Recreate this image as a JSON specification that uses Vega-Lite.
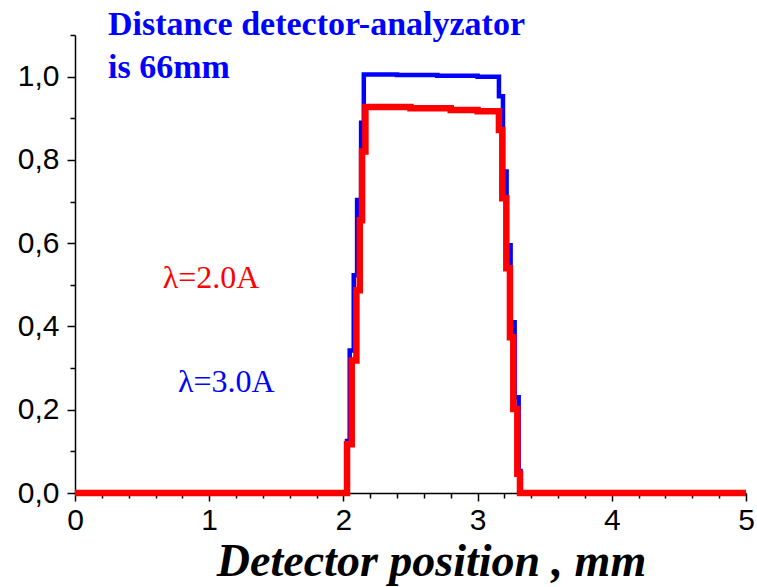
{
  "$schema": "https://vega.github.io/schema/vega-lite/v6.json",
  "width": 671,
  "height": 458,
  "autosize": {"type": "none"},
  "padding": {"left": 75, "top": 35, "right": 11, "bottom": 94},
  "background": "white",
  "config": {
    "view": {"stroke": null},
    "axis": {"grid": false, "domainColor": "black", "tickColor": "black", "domainWidth": 1.5, "tickWidth": 1.5, "labelColor": "black"}
  },
  "datasets": {
    "blue": [
      {"x": 0, "y": 0},
      {"x": 2.027, "y": 0.125},
      {"x": 2.047, "y": 0.342},
      {"x": 2.077, "y": 0.523},
      {"x": 2.102, "y": 0.704},
      {"x": 2.132, "y": 0.889},
      {"x": 2.152, "y": 1.005},
      {"x": 2.4, "y": 1.004},
      {"x": 2.7, "y": 1.002},
      {"x": 3.0, "y": 1.0},
      {"x": 3.159, "y": 0.953},
      {"x": 3.189, "y": 0.772},
      {"x": 3.216, "y": 0.595},
      {"x": 3.246, "y": 0.41},
      {"x": 3.276, "y": 0.23},
      {"x": 3.306, "y": 0.053},
      {"x": 3.32, "y": 0},
      {"x": 5, "y": 0}
    ],
    "red": [
      {"x": 0, "y": 0},
      {"x": 2.027, "y": 0.117},
      {"x": 2.062, "y": 0.318},
      {"x": 2.097, "y": 0.487},
      {"x": 2.122, "y": 0.655},
      {"x": 2.139, "y": 0.82},
      {"x": 2.164, "y": 0.927},
      {"x": 2.5, "y": 0.924},
      {"x": 2.8, "y": 0.92},
      {"x": 3.0, "y": 0.917},
      {"x": 3.159, "y": 0.872},
      {"x": 3.184, "y": 0.708},
      {"x": 3.214, "y": 0.54},
      {"x": 3.241, "y": 0.374},
      {"x": 3.266, "y": 0.202},
      {"x": 3.296, "y": 0.046},
      {"x": 3.316, "y": 0},
      {"x": 5, "y": 0}
    ],
    "labels": [
      {"x": 0.246, "y": 1.1, "text": "Distance detector-analyzator", "c": "blue", "kind": "big"},
      {"x": 0.246, "y": 0.997, "text": "is 66mm", "c": "blue", "kind": "big"},
      {"x": 0.653, "y": 0.492, "text": "λ=2.0A", "c": "red", "kind": "small"},
      {"x": 0.767, "y": 0.243, "text": "λ=3.0A", "c": "blue", "kind": "small"}
    ]
  },
  "layer": [
    {
      "data": {"name": "blue"},
      "mark": {"type": "line", "interpolate": "step-after", "color": "#0000ff", "strokeWidth": 4.5, "clip": false},
      "encoding": {
        "x": {"field": "x", "type": "quantitative", "scale": {"domain": [0, 5], "nice": false},
          "axis": {"orient": "bottom", "values": [0, 1, 2, 3, 4, 5], "tickSize": 8, "labelFont": "Liberation Sans", "labelFontSize": 30, "labelPadding": 4, "labelFlush": false,
            "title": "Detector position , mm", "titleFont": "Liberation Serif", "titleFontStyle": "italic", "titleFontWeight": "bold", "titleFontSize": 46, "titlePadding": 4, "titleColor": "black", "titleX": 356}},
        "y": {"field": "y", "type": "quantitative", "scale": {"domain": [0, 1.1], "nice": false},
          "axis": {"orient": "left", "values": [0, 0.2, 0.4, 0.6, 0.8, 1.0], "tickSize": 8, "labelFont": "Liberation Sans", "labelFontSize": 30, "labelPadding": 8, "labelFlush": false,
            "labelExpr": "replace(format(datum.value, '.1f'), '.', ',')", "title": null}}
      }
    },
    {
      "data": {"name": "red"},
      "mark": {"type": "line", "interpolate": "step-after", "color": "#ff0000", "strokeWidth": 6.5, "clip": false},
      "encoding": {
        "x": {"field": "x", "type": "quantitative",
          "axis": {"orient": "bottom", "values": [0.2, 0.4, 0.6, 0.8, 1.2, 1.4, 1.6, 1.8, 2.2, 2.4, 2.6, 2.8, 3.2, 3.4, 3.6, 3.8, 4.2, 4.4, 4.6, 4.8], "tickSize": 5, "labels": false, "domain": false, "title": null}},
        "y": {"field": "y", "type": "quantitative",
          "axis": {"orient": "left", "values": [0.1, 0.3, 0.5, 0.7, 0.9, 1.1], "tickSize": 5, "labels": false, "domain": false, "title": null}}
      }
    },
    {
      "data": {"name": "labels"},
      "transform": [{"filter": "datum.kind == 'big'"}],
      "mark": {"type": "text", "align": "left", "baseline": "alphabetic", "font": "Liberation Serif", "fontWeight": "bold", "fontSize": 34, "color": "#0000ff", "clip": false},
      "encoding": {
        "x": {"field": "x", "type": "quantitative", "axis": null},
        "y": {"field": "y", "type": "quantitative", "axis": null},
        "text": {"field": "text"}
      }
    },
    {
      "data": {"name": "labels"},
      "transform": [{"filter": "datum.kind == 'small'"}],
      "mark": {"type": "text", "align": "left", "baseline": "alphabetic", "font": "Liberation Serif", "fontSize": 32},
      "encoding": {
        "x": {"field": "x", "type": "quantitative", "axis": null},
        "y": {"field": "y", "type": "quantitative", "axis": null},
        "text": {"field": "text"},
        "color": {"field": "c", "type": "nominal", "scale": {"domain": ["red", "blue"], "range": ["#ff0000", "#0000ff"]}, "legend": null}
      }
    }
  ],
  "resolve": {"axis": {"x": "independent", "y": "independent"}}
}
